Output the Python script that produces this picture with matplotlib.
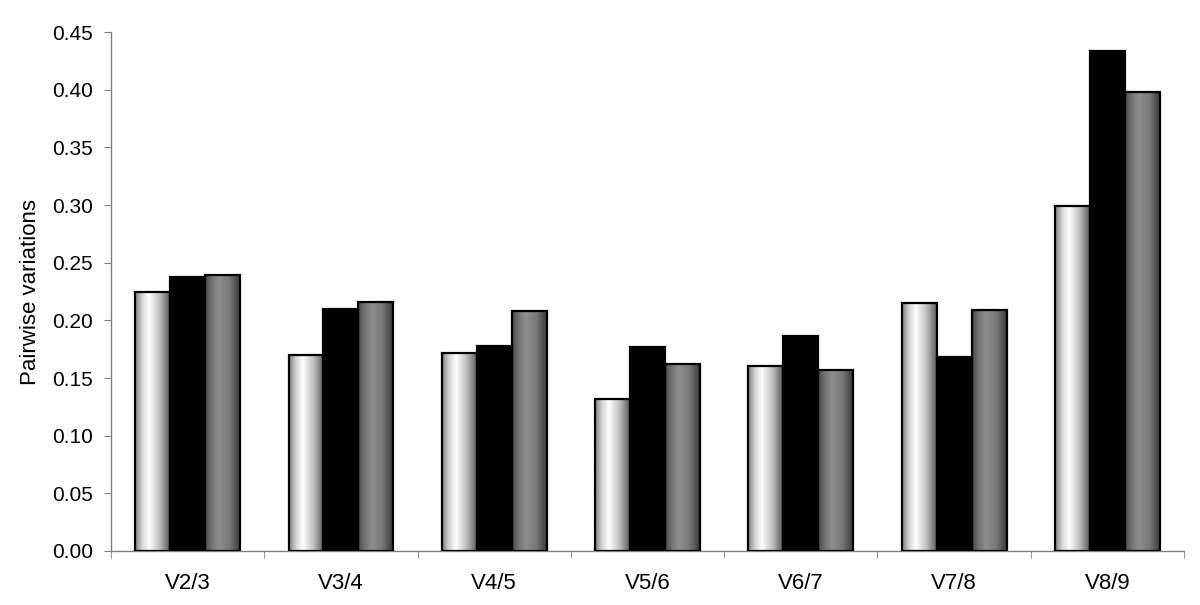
import matplotlib
matplotlib.use("Agg")
import matplotlib.pyplot as plt
from matplotlib.colors import LinearSegmentedColormap
from matplotlib.ticker import FormatStrFormatter
import numpy as np

categories = ["V2/3", "V3/4", "V4/5", "V5/6", "V6/7", "V7/8", "V8/9"]
white_vals = [0.225, 0.170, 0.172, 0.132, 0.160, 0.215, 0.299]
black_vals = [0.238, 0.210, 0.178, 0.177, 0.186, 0.168, 0.434]
gray_vals = [0.239, 0.216, 0.208, 0.162, 0.157, 0.209, 0.398]

plt.rcParams['font.family'] = ['Liberation Sans', 'DejaVu Sans']

# cylinder-like shading used for the white and gray bars
white_cmap = LinearSegmentedColormap.from_list(
  "w", [(0, "#7e7e7e"), (0.2, "#d4d4d4"), (0.4, "#ffffff"), (0.7, "#c0c0c0"), (1, "#5a5a5a")])
gray_cmap = LinearSegmentedColormap.from_list(
  "g", [(0, "#4a4a4a"), (0.2, "#747474"), (0.4, "#8e8e8e"), (0.7, "#787878"), (1, "#3a3a3a")])

fig = plt.figure(figsize=(12, 6.05), dpi=100)
ax = fig.add_axes([0.0925, 0.0893, 0.8942, 0.8577])

x = np.arange(len(categories))
w = 0.228
grad = np.linspace(0, 1, 256).reshape(1, -1)

def shaded_bars(pos, vals, cmap):
  bars = ax.bar(pos, vals, w, facecolor="none", edgecolor="black", linewidth=1.6, zorder=3)
  for b in bars:
    x0 = b.get_x()
    im = ax.imshow(grad, extent=[x0, x0 + b.get_width(), 0, b.get_height()],
                   aspect="auto", cmap=cmap, zorder=2, interpolation="bilinear")
    im.set_clip_path(b)

shaded_bars(x - w, white_vals, white_cmap)
ax.bar(x, black_vals, w, color="black", edgecolor="black", linewidth=1.6, zorder=3)
shaded_bars(x + w, gray_vals, gray_cmap)

ax.set_xlim(-0.5, len(categories) - 0.5)
ax.set_ylim(0, 0.45)
ax.set_yticks(np.arange(0, 0.451, 0.05))
ax.yaxis.set_major_formatter(FormatStrFormatter("%.2f"))
ax.set_xticks(x)
ax.set_xticklabels(categories)
ax.set_xticks(np.arange(-0.5, len(categories), 1), minor=True)
ax.tick_params(axis="x", which="major", length=0, pad=16, labelsize=16)
ax.tick_params(axis="x", which="minor", length=5, color="#808080", direction="out")
ax.tick_params(axis="y", length=5, color="#808080", labelsize=15, pad=8)

for s in ["top", "right"]:
  ax.spines[s].set_visible(False)
for s in ["left", "bottom"]:
  ax.spines[s].set_color("#808080")
  ax.spines[s].set_linewidth(1.0)

ax.set_ylabel("Pairwise variations", fontsize=16, labelpad=8)

fig.savefig("out.png", dpi=100)
